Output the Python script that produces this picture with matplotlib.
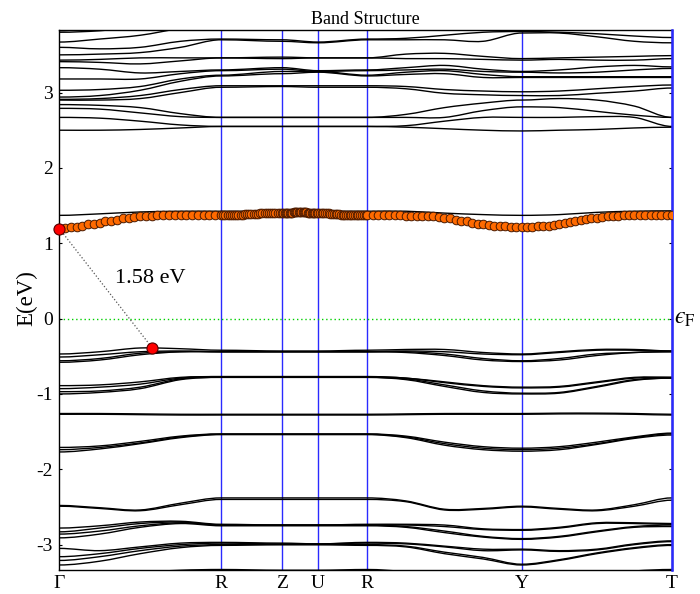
import numpy as np
import matplotlib
matplotlib.use('Agg')
import matplotlib.pyplot as plt
import matplotlib.transforms as mtransforms
from matplotlib.path import Path
from matplotlib.patches import PathPatch

plt.rcParams['font.family'] = 'serif'
plt.rcParams['font.serif'] = ['Liberation Serif', 'DejaVu Serif']
plt.rcParams['mathtext.fontset'] = 'stix'
plt.rcParams['axes.unicode_minus'] = False

#------------------------------------------------------------------------#
# k-path and band energies (eV, relative to E_F)
#------------------------------------------------------------------------#
HS_LABELS = ['Γ', 'R', 'Z', 'U', 'R', 'Y', 'T']
HS_K = [0.0, 1.617, 2.227, 2.587, 3.080, 4.624, 6.127]
SEG_DIV = [4, 1, 1, 1, 4, 4]        # band nodes per path segment

# upper conduction manifold, one row per k node (Γ .. T), sorted energies
UPPER = np.array([
    [2.50, 2.67, 2.79, 2.84, 2.90, 2.91, 2.94, 3.03, 3.18, 3.33, 3.41, 3.43, 3.50, 3.60, 3.67, 3.80, 3.82],
    [2.50, 2.66, 2.78, 2.83, 2.90, 2.92, 2.96, 3.04, 3.18, 3.31, 3.40, 3.44, 3.51, 3.58, 3.71, 3.82, 3.87],
    [2.51, 2.62, 2.73, 2.80, 2.92, 2.96, 3.03, 3.08, 3.18, 3.26, 3.38, 3.46, 3.53, 3.60, 3.76, 3.87, 3.93],
    [2.53, 2.57, 2.68, 2.72, 3.00, 3.04, 3.15, 3.18, 3.25, 3.28, 3.42, 3.46, 3.60, 3.68, 3.85, 3.92, 3.98],
    [2.55, 2.55, 2.67, 2.67, 3.07, 3.09, 3.22, 3.23, 3.29, 3.30, 3.46, 3.46, 3.70, 3.71, 3.90, 3.95, 4.00],
    [2.55, 2.55, 2.67, 2.67, 3.08, 3.09, 3.25, 3.28, 3.31, 3.33, 3.45, 3.47, 3.68, 3.70, 3.90, 3.95, 4.00],
    [2.55, 2.55, 2.67, 2.67, 3.07, 3.09, 3.27, 3.28, 3.28, 3.29, 3.46, 3.46, 3.66, 3.67, 3.90, 3.95, 4.00],
    [2.55, 2.55, 2.67, 2.67, 3.07, 3.09, 3.22, 3.23, 3.29, 3.30, 3.46, 3.46, 3.70, 3.71, 3.90, 3.95, 4.00],
    [2.54, 2.56, 2.67, 2.71, 3.05, 3.08, 3.24, 3.27, 3.30, 3.33, 3.45, 3.51, 3.70, 3.72, 3.90, 3.95, 4.00],
    [2.52, 2.62, 2.67, 2.80, 2.99, 3.04, 3.25, 3.29, 3.31, 3.36, 3.45, 3.52, 3.70, 3.76, 3.90, 3.95, 4.00],
    [2.50, 2.67, 2.76, 2.86, 2.97, 3.02, 3.20, 3.24, 3.28, 3.31, 3.44, 3.48, 3.68, 3.80, 3.90, 3.95, 4.00],
    [2.49, 2.67, 2.81, 2.90, 2.96, 3.01, 3.20, 3.21, 3.27, 3.28, 3.43, 3.45, 3.79, 3.81, 3.90, 3.95, 4.00],
    [2.50, 2.67, 2.80, 2.92, 2.96, 3.02, 3.20, 3.21, 3.26, 3.30, 3.44, 3.46, 3.79, 3.80, 3.90, 3.95, 4.00],
    [2.51, 2.68, 2.75, 2.90, 2.99, 3.05, 3.20, 3.21, 3.27, 3.34, 3.43, 3.47, 3.74, 3.78, 3.90, 3.95, 4.00],
    [2.53, 2.67, 2.70, 2.82, 3.02, 3.08, 3.20, 3.21, 3.30, 3.36, 3.43, 3.48, 3.68, 3.75, 3.90, 3.95, 4.00],
    [2.54, 2.55, 2.67, 2.67, 3.06, 3.10, 3.20, 3.21, 3.32, 3.34, 3.45, 3.49, 3.66, 3.73, 3.90, 3.95, 4.00],
]).T

# second conduction band (black line above the CB)
CB2 = [1.37, 1.39, 1.415, 1.425, 1.425, 1.425, 1.425, 1.425, 1.425, 1.40, 1.38, 1.37, 1.38, 1.41, 1.425, 1.43]

# valence bands, one row per band (Γ, .., R, Z, U, R, .., Y, .., T)
VB_A = [
    [-0.58, -0.55, -0.48, -0.44, -0.44, -0.44, -0.44, -0.44, -0.45, -0.49, -0.55, -0.57, -0.55, -0.49, -0.45, -0.44],
    [-0.56, -0.53, -0.46, -0.44, -0.44, -0.44, -0.44, -0.44, -0.44, -0.47, -0.53, -0.56, -0.53, -0.47, -0.45, -0.44],
    [-0.51, -0.48, -0.44, -0.43, -0.44, -0.44, -0.44, -0.44, -0.43, -0.44, -0.47, -0.48, -0.45, -0.42, -0.42, -0.43],
    [-0.47, -0.44, -0.39, -0.40, -0.42, -0.43, -0.43, -0.42, -0.41, -0.41, -0.45, -0.47, -0.44, -0.41, -0.41, -0.43],
]
VB_B = [
    [-1.00, -0.98, -0.93, -0.81, -0.78, -0.78, -0.78, -0.78, -0.81, -0.90, -0.98, -1.00, -0.99, -0.91, -0.82, -0.79],
    [-0.97, -0.96, -0.91, -0.80, -0.78, -0.78, -0.78, -0.78, -0.80, -0.88, -0.96, -0.99, -0.98, -0.90, -0.81, -0.79],
    [-0.93, -0.91, -0.87, -0.79, -0.77, -0.77, -0.77, -0.77, -0.79, -0.85, -0.90, -0.92, -0.91, -0.85, -0.79, -0.78],
    [-0.89, -0.88, -0.84, -0.78, -0.77, -0.77, -0.77, -0.77, -0.79, -0.84, -0.89, -0.91, -0.90, -0.84, -0.78, -0.78],
]
VB_C = [
    [-1.27, -1.27, -1.275, -1.28, -1.28, -1.28, -1.28, -1.28, -1.275, -1.27, -1.27, -1.27, -1.265, -1.265, -1.27, -1.28],
    [-1.26, -1.26, -1.265, -1.27, -1.27, -1.27, -1.27, -1.27, -1.265, -1.26, -1.26, -1.26, -1.255, -1.255, -1.26, -1.27],
]
VB_D = [
    [-1.77, -1.73, -1.66, -1.58, -1.54, -1.54, -1.54, -1.54, -1.58, -1.68, -1.74, -1.76, -1.74, -1.67, -1.59, -1.545],
    [-1.74, -1.71, -1.65, -1.57, -1.535, -1.535, -1.535, -1.535, -1.57, -1.66, -1.72, -1.74, -1.72, -1.66, -1.58, -1.53],
    [-1.71, -1.69, -1.63, -1.56, -1.53, -1.53, -1.53, -1.53, -1.56, -1.64, -1.70, -1.72, -1.70, -1.64, -1.57, -1.52],
]
VB_E = [
    [-2.49, -2.52, -2.55, -2.47, -2.40, -2.40, -2.40, -2.40, -2.43, -2.54, -2.53, -2.50, -2.53, -2.55, -2.49, -2.41],
    [-2.48, -2.51, -2.54, -2.45, -2.38, -2.38, -2.38, -2.38, -2.42, -2.53, -2.52, -2.49, -2.52, -2.54, -2.47, -2.38],
]
VB_F = [
    [-2.91, -2.86, -2.77, -2.72, -2.75, -2.75, -2.75, -2.75, -2.77, -2.84, -2.90, -2.93, -2.90, -2.83, -2.77, -2.76],
    [-2.86, -2.82, -2.75, -2.71, -2.74, -2.74, -2.74, -2.74, -2.76, -2.82, -2.89, -2.92, -2.89, -2.82, -2.76, -2.74],
    [-2.83, -2.78, -2.72, -2.70, -2.74, -2.74, -2.74, -2.74, -2.74, -2.76, -2.80, -2.81, -2.78, -2.72, -2.72, -2.73],
    [-2.78, -2.75, -2.70, -2.69, -2.73, -2.74, -2.74, -2.73, -2.73, -2.74, -2.79, -2.80, -2.77, -2.71, -2.71, -2.72],
]
VB_G = [
    [-3.27, -3.22, -3.12, -3.04, -3.01, -3.00, -3.00, -3.01, -3.03, -3.12, -3.19, -3.27, -3.21, -3.12, -3.05, -3.01],
    [-3.21, -3.16, -3.08, -3.02, -3.00, -3.00, -3.00, -3.00, -3.02, -3.10, -3.17, -3.26, -3.20, -3.11, -3.04, -3.00],
    [-3.16, -3.12, -3.05, -3.00, -2.98, -2.99, -2.99, -2.98, -2.99, -3.03, -3.08, -3.07, -3.09, -3.07, -3.00, -2.96],
    [-3.05, -3.08, -3.03, -2.98, -2.97, -2.98, -2.99, -2.97, -2.98, -3.02, -3.06, -3.06, -3.08, -3.06, -2.99, -2.95],
]
VB_H = [
    [-3.45, -3.42, -3.37, -3.34, -3.33, -3.34, -3.34, -3.33, -3.36, -3.42, -3.45, -3.46, -3.44, -3.40, -3.35, -3.33],
]

# lowest conduction band, 28 k steps per segment (orange points)
CB_GR = [1.195, 1.20, 1.21, 1.22, 1.235, 1.25, 1.26, 1.275, 1.29, 1.30, 1.315, 1.33, 1.34, 1.345, 1.355,
         1.36, 1.365, 1.37, 1.37, 1.37, 1.37, 1.37, 1.37, 1.37, 1.37, 1.37, 1.37, 1.37, 1.37]
CB_RZ = [1.37, 1.37, 1.37, 1.375, 1.375, 1.375, 1.38, 1.38, 1.38, 1.38, 1.385, 1.385, 1.385, 1.39,
         1.39, 1.39, 1.39, 1.395, 1.395, 1.395, 1.395, 1.40, 1.40, 1.40, 1.40, 1.40, 1.40, 1.40]
CB_ZU = [1.40, 1.40, 1.40, 1.405, 1.405, 1.405, 1.405, 1.405, 1.41, 1.41, 1.41, 1.41, 1.41, 1.41,
         1.41, 1.41, 1.41, 1.41, 1.41, 1.405, 1.405, 1.405, 1.405, 1.405, 1.40, 1.40, 1.40, 1.40]
CB_UR = [1.40, 1.40, 1.40, 1.395, 1.395, 1.395, 1.39, 1.39, 1.39, 1.385, 1.385, 1.385, 1.38, 1.38,
         1.38, 1.38, 1.375, 1.375, 1.375, 1.375, 1.37, 1.37, 1.37, 1.37, 1.37, 1.37, 1.37, 1.37]
CB_RY = [1.37, 1.37, 1.37, 1.37, 1.37, 1.37, 1.365, 1.365, 1.365, 1.36, 1.36, 1.355, 1.345, 1.335,
         1.33, 1.315, 1.30, 1.29, 1.275, 1.26, 1.255, 1.245, 1.235, 1.23, 1.225, 1.22, 1.22, 1.22]
CB_YT = [1.22, 1.22, 1.225, 1.23, 1.235, 1.245, 1.255, 1.27, 1.285, 1.295, 1.31, 1.325, 1.335, 1.34,
         1.35, 1.355, 1.36, 1.365, 1.37, 1.37, 1.37, 1.37, 1.37, 1.37, 1.37, 1.37, 1.37, 1.37]

# band edges
CBM_K, CBM_E = 0.0, 1.195
VBM_K, VBM_E = 0.927, -0.385

######################################################
def band_path(k, e, flat):
    # cubic Hermite segments through the band nodes, zero slope at HS points
    k = np.asarray(k, float); e = np.asarray(e, float)
    m = np.zeros(len(k))
    m[1:-1] = (e[2:] - e[:-2]) / (k[2:] - k[:-2])
    m[flat] = 0.0
    verts = [(k[0], e[0])]; codes = [Path.MOVETO]
    for i in range(len(k) - 1):
        h = k[i+1] - k[i]
        verts += [(k[i] + h/3, e[i] + m[i]*h/3), (k[i+1] - h/3, e[i+1] - m[i+1]*h/3), (k[i+1], e[i+1])]
        codes += [Path.CURVE4]*3
    return Path(verts, codes)

k_nodes = [HS_K[0]]
for i, nd in enumerate(SEG_DIV):
    k_nodes += list(np.linspace(HS_K[i], HS_K[i+1], nd + 1)[1:])
hs_idx = list(np.cumsum([0] + SEG_DIV))

cb_k = [HS_K[0]]
for i in range(len(HS_K) - 1):
    cb_k += list(np.linspace(HS_K[i], HS_K[i+1], 29)[1:])
cb_e = CB_GR + CB_RZ + CB_ZU + CB_UR + CB_RY + CB_YT

########### plot figure ################
fig = plt.figure(figsize=(7, 5.94), dpi=100)
ax = fig.add_axes([0.0847, 0.0396, 0.8753, 0.9099])

all_bands = list(UPPER) + [CB2] + VB_A + VB_B + VB_C + VB_D + VB_E + VB_F + VB_G + VB_H
for band in all_bands:
    ax.add_patch(PathPatch(band_path(k_nodes, band, hs_idx), fill=False,
                           edgecolor='k', lw=1.0, zorder=2))

for kk in HS_K[1:-1]:
    ax.axvline(kk, color='#2a2aff', lw=1.0, zorder=1)
ax.axvline(HS_K[-1], color='#2a2aff', lw=1.8, zorder=3, clip_on=False)
ax.axhline(0, color='#00d000', lw=1.0, ls=(0, (1, 2)), zorder=1)

# lowest conduction band
ax.plot(cb_k, cb_e, color='k', lw=0.8, zorder=3)
ax.plot(cb_k, cb_e, 'o', ms=6.2, mfc='#ff6a00', mec='#4a1a00', mew=0.7, zorder=4)

# band gap
gap = CBM_E - VBM_E
ax.plot([CBM_K, VBM_K], [CBM_E, VBM_E], ls=':', color='#555555', lw=0.9, zorder=5)
ax.plot([CBM_K, VBM_K], [CBM_E, VBM_E], 'o', ms=8, mfc='red', mec='#550000', mew=0.8,
        zorder=6, clip_on=False)
ax.text(0.907, 0.535, '%.2f eV' % gap, fontsize=16, ha='center', va='center')

ax.set_xlim(HS_K[0], HS_K[-1])
ax.set_ylim(-3.343, 3.83)
ax.set_xticks(HS_K)
ax.set_xticklabels(HS_LABELS)
ax.set_yticks(range(-3, 4))
ax.tick_params(axis='y', direction='in', length=2.5, right=True, pad=4.5, labelsize=14)
ax.tick_params(axis='x', length=0, pad=3.5, labelsize=14)
for axis in ['top', 'bottom', 'left', 'right']:
    ax.spines[axis].set_linewidth(1.0)

ax.set_title('Band Structure', fontsize=13, pad=4)
ax.set_ylabel('E(eV)', fontsize=16.5)
ax.yaxis.set_label_coords(-0.0364, 0.504)

# Fermi level tag (lunate epsilon)
trans = mtransforms.blended_transform_factory(ax.transAxes, ax.transData)
ax.text(1.004, 0, '$\u03f5_{\\rm F}$', transform=trans, fontsize=17, ha='left', va='center')

fig.savefig('out.png', dpi=100)
